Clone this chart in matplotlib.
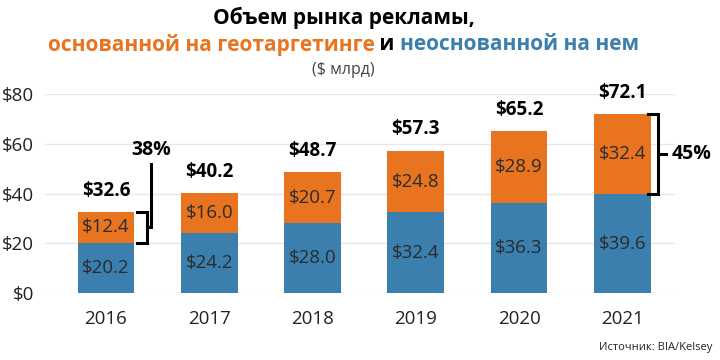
import numpy as np
import matplotlib.pyplot as plt

plt.rcParams['font.family'] = ['Open Sans', 'DejaVu Sans']

years = ['2016', '2017', '2018', '2019', '2020', '2021']
non_geo = [20.2, 24.2, 28.0, 32.4, 36.3, 39.6]
geo = [12.4, 16.0, 20.7, 24.8, 28.9, 32.4]
totals = [32.6, 40.2, 48.7, 57.3, 65.2, 72.1]
yticks = [0, 20, 40, 60, 80]
ytick_labels = ['$0', '$20', '$40', '$60', '$80']

blue = '#3A7FAE'
orange = '#E8741F'
text_dark = '#2b2b2b'

fig = plt.figure(figsize=(7.2, 3.6), dpi=100)
ax = fig.add_axes([0.0625, 0.186, 0.875, 0.553])

x = np.arange(len(years))
w = 0.55
ax.bar(x, non_geo, width=w, color=blue, zorder=2)
ax.bar(x, geo, width=w, bottom=non_geo, color=orange, zorder=2)

for i in range(len(years)):
    ax.text(x[i], non_geo[i] / 2, f'${non_geo[i]:.1f}', ha='center', va='center',
            fontsize=13.5, color=text_dark, zorder=3)
    ax.text(x[i], non_geo[i] + geo[i] / 2, f'${geo[i]:.1f}', ha='center', va='center',
            fontsize=13.5, color=text_dark, zorder=3)
    ax.annotate(f'${totals[i]:.1f}', (x[i], totals[i]), xytext=(0, 8),
                textcoords='offset points', ha='center', va='bottom',
                fontsize=13.5, fontweight='bold', color='black')

ax.set_xlim(-0.59, 5.51)
ax.set_ylim(0, 80)
ax.set_yticks(yticks)
ax.set_yticklabels(ytick_labels)
ax.set_xticks(x)
ax.set_xticklabels(years)
ax.tick_params(axis='both', length=0, labelsize=13.5, colors='#222222')
ax.tick_params(axis='x', pad=12)
ax.tick_params(axis='y', pad=8)
ax.yaxis.grid(True, color='#e6e6e6', lw=1, zorder=0)
for s in ax.spines.values():
    s.set_visible(False)

# bracket 2016
lo, hi = non_geo[0], totals[0]
mid = (lo + hi) / 2
ax.plot([0.30, 0.40, 0.40, 0.30], [hi, hi, lo, lo], color='black', lw=2.2,
        solid_joinstyle='miter', clip_on=False)
ax.plot([0.40, 0.44, 0.44], [mid, mid, 52.0], color='black', lw=2.2,
        solid_joinstyle='miter', clip_on=False)
ax.text(0.44, 57.5, '38%', ha='center', va='center', fontsize=14,
        fontweight='bold', color='black')

# bracket 2021
lo, hi = non_geo[5], totals[5]
mid = (lo + hi) / 2
ax.plot([5.25, 5.35, 5.35, 5.25], [hi, hi, lo, lo], color='black', lw=2.2,
        solid_joinstyle='miter', clip_on=False)
ax.plot([5.35, 5.42], [mid, mid], color='black', lw=2.2, clip_on=False)
ax.text(5.48, mid, '45%', ha='left', va='center', fontsize=14,
        fontweight='bold', color='black')

# title, second line in three colours
fig.text(0.477, 0.95, 'Объем рынка рекламы,', ha='center', va='center',
         fontsize=15, fontweight='bold', color='black')
parts = [('основанной на геотаргетинге', orange), (' и ', 'black'),
         ('неоснованной на нем', blue)]
fig.canvas.draw()
r = fig.canvas.get_renderer()
objs = []
for s, c in parts:
    t = fig.text(0, 0.875, s, ha='left', va='center', fontsize=15,
                 fontweight='bold', color=c)
    objs.append(t)
widths = [t.get_window_extent(r).width for t in objs]
total_w = sum(widths)
xpos = 0.477 * 720 - total_w / 2
for t, wd in zip(objs, widths):
    t.set_x(xpos / 720)
    xpos += wd
fig.text(0.477, 0.805, '($ млрд)', ha='center', va='center', fontsize=11.5,
         color='#444444')

fig.text(0.99, 0.035, 'Источник: BIA/Kelsey', ha='right', va='center',
         fontsize=8, color='#222222')

fig.savefig('out.png', dpi=100)
